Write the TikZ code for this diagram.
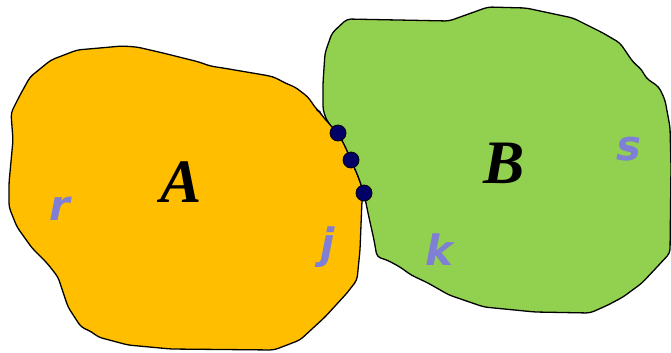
\documentclass[tikz,border=0pt]{standalone}
\usepackage{fontspec}
\setmainfont{Liberation Serif}
\newfontfamily\labelsans{DejaVu Sans}
\definecolor{regionA}{HTML}{FFBF00}
\definecolor{regionB}{HTML}{92D050}
\definecolor{pointnavy}{HTML}{000066}
\definecolor{lavender}{HTML}{7F7FD6}
\begin{document}
\begin{tikzpicture}[x=1bp,y=-1bp,
  region/.style={draw=black, line width=1.3bp, line join=round, rounded corners=4bp},
  contactpt/.style={circle, draw=black, line width=0.8bp, fill=pointnavy, inner sep=0pt, minimum size=16bp},
  biglbl/.style={anchor=base, inner sep=0pt, font=\fontsize{62}{62}\selectfont\bfseries\itshape},
  smalllbl/.style={anchor=base, inner sep=0pt, text=lavender, font=\labelsans\fontsize{42}{42}\selectfont\bfseries\itshape}]
\useasboundingbox (0,0) rectangle (671,352);

% region A
\draw[region, fill=regionA] (122,46) -- (137,47) -- (163,53) -- (199,62) -- (210,66) -- (223,68)
  -- (270,76) -- (276,78) -- (285,83) -- (295,87) -- (308,97) -- (317,110) -- (320,112) -- (323,117)
  -- (327,121) -- (332,127) -- (338,133) -- (345,146) -- (351,160) -- (358,176) -- (364,193)
  -- (362,200) -- (360,250) -- (357,280) -- (347,293) -- (325,317) -- (300,340) -- (274,350)
  -- (171,349) -- (128,345) -- (98,337) -- (92,332) -- (81,327) -- (68,307) -- (58,277)
  -- (47,263) -- (32,248) -- (17,227) -- (9,207) -- (9,183) -- (13,140) -- (11,113)
  -- (19,97) -- (30,77) -- (51,60) -- (77,50) -- cycle;

% region B
\draw[region, fill=regionB] (347,19) -- (449,21) -- (488,7) -- (526,8) -- (573,18) -- (603,33)
  -- (620,43) -- (633,62) -- (642,70) -- (646,78) -- (659,87) -- (665,100) -- (670,127)
  -- (671,167) -- (670,253) -- (657,267) -- (642,283) -- (623,297) -- (608,305) -- (590,313)
  -- (535,312) -- (484,307) -- (449,295) -- (428,283) -- (411,275) -- (400,267) -- (387,260)
  -- (377,257) -- (374,240) -- (368,213) -- (364,193) -- (358,176) -- (351,160) -- (345,146)
  -- (338,133) -- (332,127) -- (327,121) -- (323,110) -- (323,83) -- (325,53) -- (332,33) -- cycle;

% contact points
\node[contactpt] (p1) at (338,133) {};
\node[contactpt] (p2) at (351,160) {};
\node[contactpt] (p3) at (364,193) {};

% labels
\node[biglbl] (lA) at (181,202) {A};
\node[biglbl] (lB) at (504,183) {B};
\node[smalllbl] (lr) at (60,220) {r};
\node[smalllbl] (lj) at (328,258) {j};
\node[smalllbl] (lk) at (439,265) {k};
\node[smalllbl] (ls) at (629,160) {s};
\end{tikzpicture}
\end{document}
